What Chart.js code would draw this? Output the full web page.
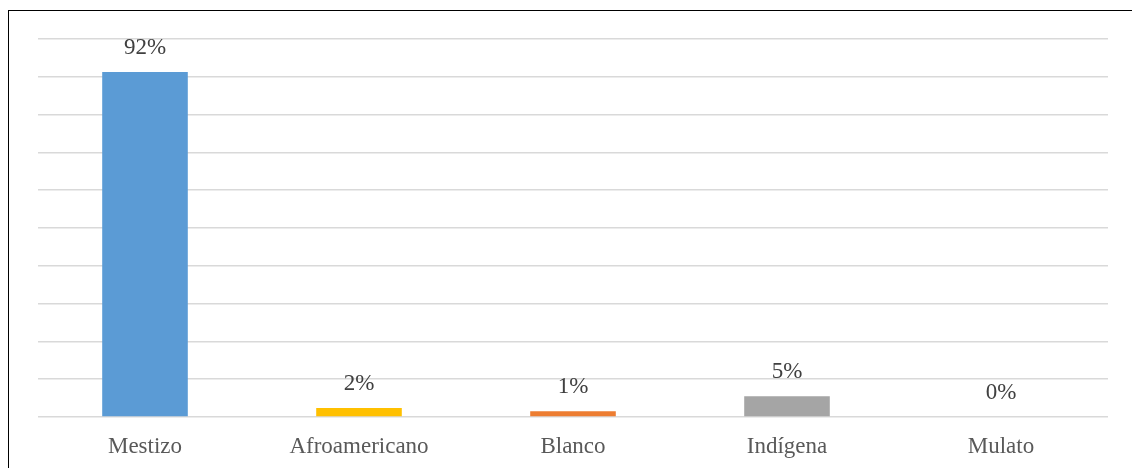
<!DOCTYPE html>
<html>
<head>
<meta charset="utf-8">
<script src="https://cdn.jsdelivr.net/npm/chart.js@4/dist/chart.umd.min.js"></script>
<style>
  html, body { margin: 0; padding: 0; background: #fff; }
  #wrap { position: relative; width: 1132px; height: 468px; }
  #frame { position: absolute; left: 8px; top: 10px; width: 1200px; height: 500px; border: 1.5px solid #000; box-sizing: border-box; }
  canvas { position: absolute; left: 0; top: 0; }
</style>
</head>
<body>
<div id="wrap">
  <div id="frame"></div>
  <canvas id="chart" width="1132" height="468"></canvas>
</div>
<script>
const categories = ["Mestizo", "Afroamericano", "Blanco", "Indígena", "Mulato"];
const values = [91.3, 2.4, 1.5, 5.5, 0];
const valueLabels = ["92%", "2%", "1%", "5%", "0%"];
const barColors = ["#5B9BD5", "#FFC000", "#ED7D31", "#A5A5A5", "#A5A5A5"];

const serif = "'Liberation Serif', 'Times New Roman', serif";

// labels above each bar
const valueLabelPlugin = {
  id: "valueLabels",
  afterDatasetsDraw(chart) {
    const ctx = chart.ctx;
    const meta = chart.getDatasetMeta(0);
    ctx.save();
    ctx.font = "23px " + serif;
    ctx.fillStyle = "#404040";
    ctx.textAlign = "center";
    ctx.textBaseline = "middle";
    meta.data.forEach((bar, i) => {
      ctx.fillText(valueLabels[i], bar.x, bar.y - 24);
    });
    ctx.restore();
  },
};

new Chart(document.getElementById("chart"), {
  type: "bar",
  data: {
    labels: categories,
    datasets: [
      {
        data: values,
        backgroundColor: barColors,
        categoryPercentage: 1,
        barPercentage: 0.4,
      },
    ],
  },
  options: {
    responsive: false,
    animation: false,
    layout: { padding: { left: 38, right: 24, top: 39, bottom: 0 } },
    plugins: {
      legend: { display: false },
      tooltip: { enabled: false },
    },
    scales: {
      x: {
        grid: { display: false, drawTicks: false },
        border: { display: false },
        ticks: {
          color: "#595959",
          font: { family: serif, size: 23 },
          padding: 16,
        },
        afterFit: (s) => { s.height = 51; },
      },
      y: {
        min: 0,
        max: 100,
        grid: { color: "#D9D9D9", lineWidth: 1.5, drawTicks: false },
        border: { display: false },
        ticks: { display: false, stepSize: 10 },
        afterFit: (s) => { s.width = 0; },
      },
    },
  },
  plugins: [valueLabelPlugin],
});
</script>
</body>
</html>
